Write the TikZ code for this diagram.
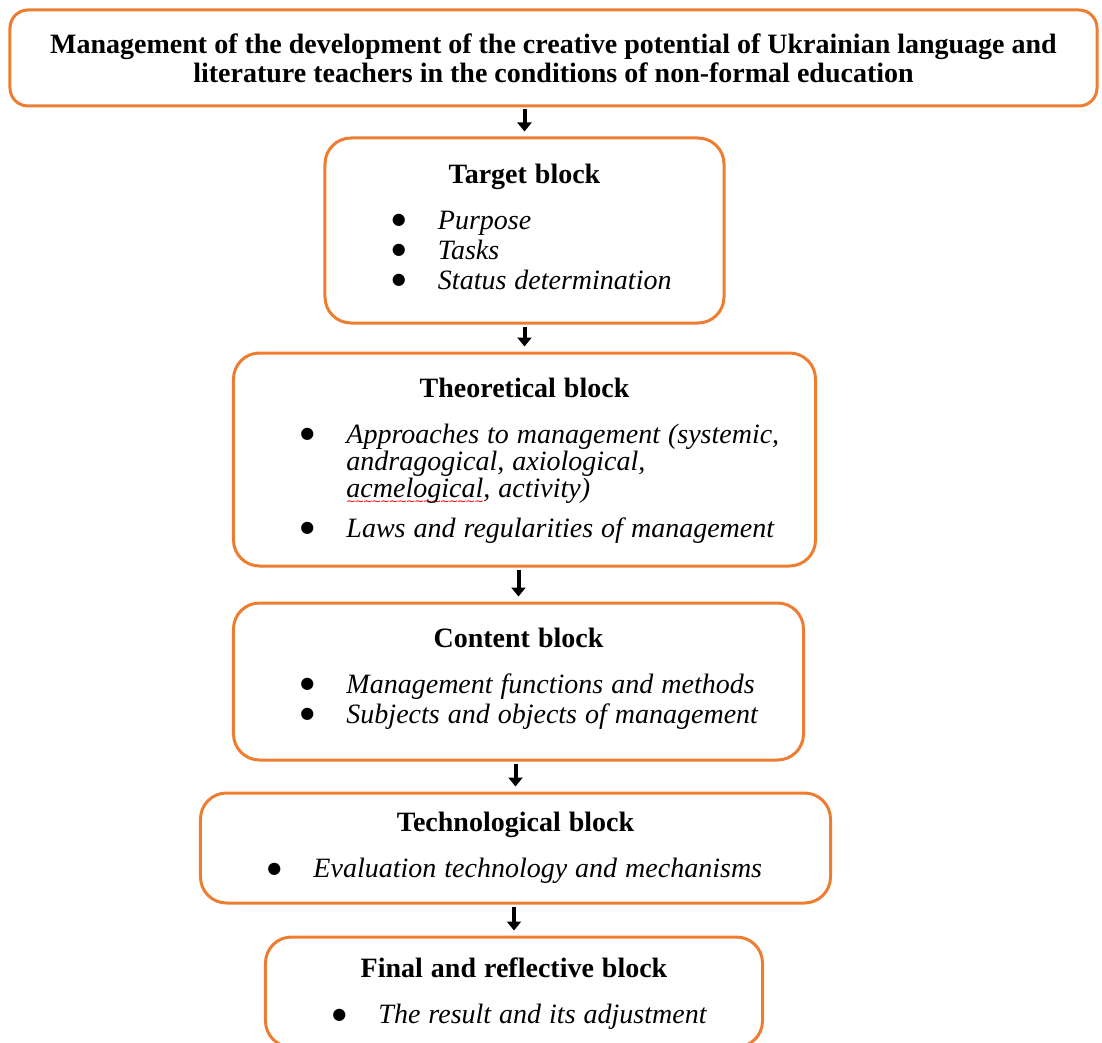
\documentclass[tikz,border=0pt]{standalone}
\usepackage{fontspec}
\setmainfont{Liberation Serif}
\newfontfamily\symfont{DejaVu Sans}
\usepackage{xcolor}
\usetikzlibrary{shapes,arrows.meta,positioning,calc}
\definecolor{blockorange}{RGB}{237,125,49}

% block title, centred
\newcommand{\blocktitle}[1]{{\centering\fontsize{14}{15}\selectfont\bfseries #1\par}\vspace{8pt}}
% bulleted italic item, and its continuation lines
\newcommand{\blitem}[2][0pt]{\par\vspace{#1}{\fontsize{14}{15}\selectfont\noindent\hspace*{33.5pt}\makebox[23pt][l]{\raisebox{2.3pt}{\symfont\fontsize{8}{8}\selectfont ●}}\itshape #2\par}}
\newcommand{\blcont}[1]{{\fontsize{14}{13.5}\selectfont\noindent\hspace*{56.5pt}\itshape #1\par}}
% room under the last item
\newcommand{\blend}[1]{\par\vspace{#1}\nointerlineskip\hbox{}}
% red spell-check wave
\newsavebox{\wavebox}
\newcommand{\redwave}[1]{\sbox{\wavebox}{#1}\rlap{\raisebox{-4pt}{\textcolor{red}{\symfont\fontsize{6}{6}\selectfont\hbox to \wd\wavebox{\xleaders\hbox{\kern-0.4pt ∼\kern-0.4pt}\hfill}}}}\usebox{\wavebox}}

\begin{document}
\begin{tikzpicture}[
    node distance=15pt,
    every node/.style={font=\fontsize{12}{14.5}\selectfont},
    headbox/.style={rectangle, rounded corners=9pt, draw=blockorange, line width=1.5pt, align=center, minimum width=543.5pt, minimum height=48pt, font=\bfseries\fontsize{14}{14.5}\selectfont},
    blockbox/.style={rectangle, rounded corners=13pt, draw=blockorange, line width=1.5pt, align=left, inner xsep=0pt, inner ysep=0pt},
    arrow/.style={-{Triangle[width=7pt,length=4.5pt]}, line width=2pt, shorten <=1pt, shorten >=2.5pt}
]
% page size and margins as in the reference
\useasboundingbox (-276.75pt,29pt) rectangle ++(551pt,-521.5pt);

% Heading
\node[headbox] (mgmt) at (0,0) {Management of the development of the creative potential of Ukrainian language and\\literature teachers in the conditions of non-formal education};

% Blocks, one under the other
\node[blockbox, text width=199.5pt, minimum height=92.5pt, below=14.5pt of mgmt, xshift=-14.5pt] (target)
    {\blocktitle{Target block}\blitem{Purpose}\blitem{Tasks}\blitem{Status determination}\blend{4pt}};
\node[blockbox, text width=291pt, minimum height=106.5pt, below=13.5pt of target] (theory)
    {\blocktitle{Theoretical block}\blitem{Approaches to management (systemic,}\blcont{andragogical, axiological,}\blcont{\redwave{acmelogical}, activity)}\blitem[5pt]{Laws and regularities of management}\blend{-1pt}};
\node[blockbox, text width=285pt, minimum height=78.5pt, below=17pt of theory, xshift=-3pt] (content)
    {\blocktitle{Content block}\blitem{Management functions and methods}\blitem{Subjects and objects of management}\blend{3pt}};
\node[blockbox, text width=315pt, minimum height=55pt, below=15pt of content, xshift=-1.5pt] (techno)
    {\blocktitle{Technological block}\blitem{Evaluation technology and mechanisms}\blend{0pt}};
\node[blockbox, text width=248.5pt, minimum height=55pt, below=15.5pt of techno, xshift=-0.75pt] (final)
    {\blocktitle{Final and reflective block}\blitem{The result and its adjustment}\blend{-2pt}};

% Arrows
\draw[arrow] (target.north |- mgmt.south) -- (target.north);
\draw[arrow] (theory.north |- target.south) -- (theory.north);
\draw[arrow] (content.north |- theory.south) -- (content.north);
\draw[arrow] (techno.north |- content.south) -- (techno.north);
\draw[arrow] (final.north |- techno.south) -- (final.north);

\end{tikzpicture}
\end{document}
